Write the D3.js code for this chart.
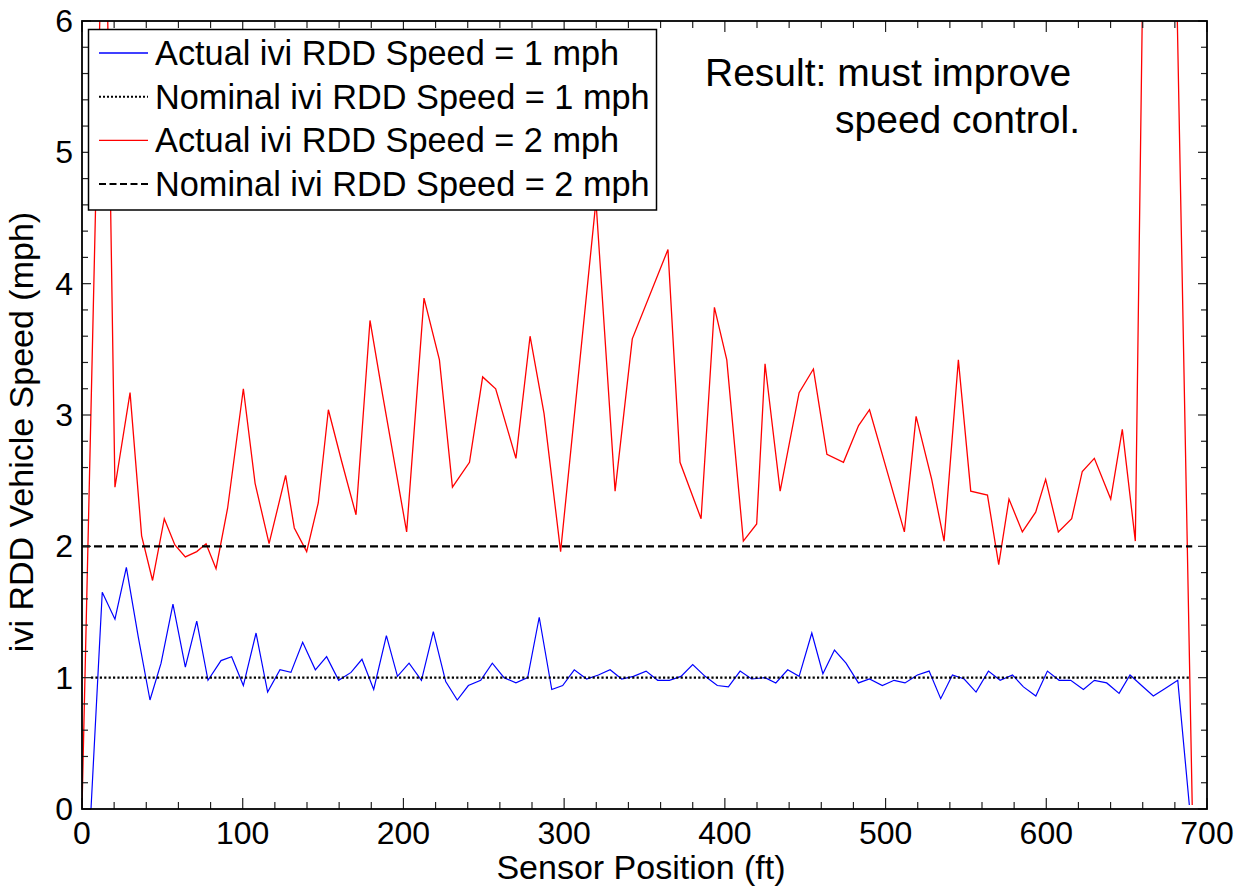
<!DOCTYPE html>
<html>
<head>
<meta charset="utf-8">
<script src="https://cdn.jsdelivr.net/npm/d3@7"></script>
<style>
  body { margin: 0; background: #fff; }
  svg { font-family: "Liberation Sans", Arial, sans-serif; }
</style>
</head>
<body>
<div id="viz"></div>
<script>
// sensor positions (ft) and speeds (mph)
const pos1 = [5.6, 12.6, 20.5, 27.6, 35, 42.3, 49.2, 56.6, 64.3, 71.4, 78.4, 86.5, 93.1, 100.4, 108.3, 115.5, 123.2, 130, 137.3, 145.2,
  152.2, 159.7, 167.4, 174.2, 181.5, 189.4, 196.3, 203.5, 211.2, 218.6, 226.3, 233.5, 240.4, 248.1, 255.3, 262.6, 270, 277.3, 284.5, 292.3,
  299.1, 306.3, 314, 321.3, 328.6, 335.8, 343.1, 351, 358.2, 365.5, 372.7, 380, 387.7, 395.3, 402.2, 409.5, 416.7, 425, 431.7, 439.1,
  446.2, 454.1, 461, 468.2, 475.4, 483.1, 490, 498, 505.3, 512.1, 519.8, 527.1, 534.3, 541.6, 548.9, 556.3, 564, 571.3, 579, 585.8,
  593.5, 600.7, 608, 615.2, 623.1, 629.9, 637.6, 645.3, 652.1, 659.3, 666.6, 674.2, 681.8, 689];
const speed1 = [0, 1.65, 1.445, 1.84, 1.31, 0.83, 1.11, 1.56, 1.08, 1.43, 0.98, 1.13, 1.16, 0.94, 1.34, 0.89, 1.06, 1.04, 1.27, 1.06,
  1.16, 0.98, 1.04, 1.14, 0.91, 1.32, 1.01, 1.11, 0.98, 1.35, 0.97, 0.83, 0.94, 0.98, 1.11, 1.00, 0.96, 1.00, 1.46, 0.91,
  0.94, 1.06, 0.99, 1.02, 1.06, 0.99, 1.01, 1.05, 0.98, 0.98, 1.01, 1.10, 1.01, 0.94, 0.93, 1.05, 0.99, 1.00, 0.96, 1.06,
  1.01, 1.34, 1.03, 1.21, 1.11, 0.96, 0.99, 0.94, 0.98, 0.96, 1.02, 1.05, 0.84, 1.02, 0.99, 0.89, 1.05, 0.98, 1.02, 0.93,
  0.86, 1.05, 0.98, 0.98, 0.91, 0.98, 0.96, 0.88, 1.02, 0.94, 0.86, 0.92, 0.98, 0.03];

const pos2 = [0, 14, 20.5, 29.9, 37.1, 43.9, 51.2, 57.8, 64.3, 71.4, 77.2, 83.4, 90.6, 100.4, 107.7, 116.4, 126.7, 132.1, 139.8, 147,
  153.3, 161.5, 170.5, 179.2, 187.1, 202, 212.8, 222.4, 230.5, 241.1, 249.3, 257.4, 270, 278.8, 287.5, 297.8, 319.8, 331.7, 342.4, 364.6,
  372.1, 385.2, 393.5, 401.2, 411.5, 419.8, 425, 434.4, 446.2, 455.1, 463.5, 473.8, 483.2, 490, 502.4, 511.7, 519, 528.7, 536.4, 545.3,
  553, 563.4, 570.4, 576.8, 585.1, 593.4, 599.6, 607.5, 615.8, 622.4, 629.9, 640.1, 647.3, 655.4, 662.7, 670, 677.5, 690.8];
const speed2 = [0, 7.6, 2.45, 3.17, 2.08, 1.74, 2.21, 2.01, 1.92, 1.96, 2.02, 1.83, 2.29, 3.20, 2.48, 2.02, 2.54, 2.14, 1.96, 2.33,
  3.04, 2.65, 2.24, 3.72, 3.15, 2.11, 3.89, 3.42, 2.45, 2.64, 3.29, 3.20, 2.67, 3.60, 3.01, 1.96, 4.63, 2.42, 3.58, 4.26,
  2.64, 2.21, 3.82, 3.42, 2.04, 2.17, 3.39, 2.42, 3.17, 3.35, 2.70, 2.64, 2.92, 3.04, 2.51, 2.11, 2.99, 2.51, 2.04, 3.42,
  2.42, 2.39, 1.86, 2.36, 2.11, 2.26, 2.51, 2.11, 2.21, 2.57, 2.67, 2.36, 2.89, 2.04, 8.8, 10.5, 8.6, 0.03];

const nominal = [1, 2];
const legendLabels = ["Actual ivi RDD Speed = 1 mph", "Nominal ivi RDD Speed = 1 mph",
  "Actual ivi RDD Speed = 2 mph", "Nominal ivi RDD Speed = 2 mph"];
const xTicks = [0, 100, 200, 300, 400, 500, 600, 700];
const yTicks = [0, 1, 2, 3, 4, 5, 6];
const note = ["Result: must improve", "speed control."];

const width = 1245, height = 888;
const margin = {left: 82, right: 38, top: 21, bottom: 79};

const svg = d3.select("#viz").append("svg")
  .attr("width", width).attr("height", height)
  .style("background-color", "white");

const x = d3.scaleLinear().domain([0, 700]).range([margin.left, width - margin.right]);
const y = d3.scaleLinear().domain([0, 6]).range([height - margin.bottom, margin.top]);

svg.append("clipPath").attr("id", "plot")
  .append("rect")
  .attr("x", x(0)).attr("y", y(6))
  .attr("width", x(700) - x(0)).attr("height", y(0) - y(6));

const line = d3.line().x(d => x(d[0])).y(d => y(d[1]));
const series1 = pos1.map((p, i) => [p, speed1[i]]);
const series2 = pos2.map((p, i) => [p, speed2[i]]);

const styles = [
  {stroke: "#0000ff", width: 1.2, dash: null},
  {stroke: "#000", width: 2.4, dash: "2.2,2.2"},
  {stroke: "#ff0000", width: 1.3, dash: null},
  {stroke: "#000", width: 2.4, dash: "8,4"}
];

const g = svg.append("g").attr("clip-path", "url(#plot)");

// nominal lines span the same range as their actual runs
const nom1 = d3.extent(pos1).map(p => [p, nominal[0]]);
const nom2 = d3.extent(pos2).map(p => [p, nominal[1]]);

const drawn = [series1, nom1, series2, nom2];
drawn.forEach((data, i) => {
  g.append("path")
    .attr("d", line(data))
    .attr("fill", "none")
    .attr("stroke", styles[i].stroke)
    .attr("stroke-width", styles[i].width)
    .attr("stroke-dasharray", styles[i].dash)
    .attr("stroke-linejoin", "miter");
});

// ticks on all four sides, pointing in
const xMinor = d3.range(0, 701, 20);
const yMinor = d3.range(0, 6.01, 0.2);
const tickG = svg.append("g").attr("stroke", "#222").attr("stroke-width", 1.2);
xMinor.forEach(v => {
  const len = xTicks.includes(Math.round(v)) ? 11 : 7;
  tickG.append("line").attr("x1", x(v)).attr("x2", x(v)).attr("y1", y(0)).attr("y2", y(0) - len);
  tickG.append("line").attr("x1", x(v)).attr("x2", x(v)).attr("y1", y(6)).attr("y2", y(6) + len);
});
yMinor.forEach(v => {
  const len = Math.abs(v - Math.round(v)) < 0.01 ? 9 : 6;
  tickG.append("line").attr("x1", x(0)).attr("x2", x(0) + len).attr("y1", y(v)).attr("y2", y(v));
  tickG.append("line").attr("x1", x(700)).attr("x2", x(700) - len).attr("y1", y(v)).attr("y2", y(v));
});

svg.append("rect")
  .attr("x", x(0)).attr("y", y(6))
  .attr("width", x(700) - x(0)).attr("height", y(0) - y(6))
  .attr("fill", "none").attr("stroke", "#000").attr("stroke-width", 1.8);

// tick labels
svg.selectAll(".xl").data(xTicks).enter().append("text")
  .attr("x", d => x(d)).attr("y", y(0) + 35)
  .attr("text-anchor", "middle").attr("font-size", 32)
  .text(d => d);
svg.selectAll(".yl").data(yTicks).enter().append("text")
  .attr("x", x(0) - 9).attr("y", d => y(d) + 11)
  .attr("text-anchor", "end").attr("font-size", 32)
  .text(d => d);

// axis titles
svg.append("text")
  .attr("x", 641).attr("y", 879)
  .attr("text-anchor", "middle").attr("font-size", 34)
  .text("Sensor Position (ft)");
svg.append("text")
  .attr("transform", "translate(33,432) rotate(-90)")
  .attr("text-anchor", "middle").attr("font-size", 34)
  .text("ivi RDD Vehicle Speed (mph)");

// legend
const legend = svg.append("g");
legend.append("rect")
  .attr("x", 88.5).attr("y", 29.5).attr("width", 568).attr("height", 180.5)
  .attr("fill", "white").attr("stroke", "#000").attr("stroke-width", 1.5);
legendLabels.forEach((lab, i) => {
  const base = 65 + i * 43.7;
  legend.append("line")
    .attr("x1", 99).attr("x2", 148).attr("y1", base - 12).attr("y2", base - 12)
    .attr("stroke", styles[i].stroke)
    .attr("stroke-width", styles[i].dash ? 2 : 1.3)
    .attr("stroke-dasharray", i === 1 ? "2,2" : (i === 3 ? "7,3.5" : null));
  legend.append("text")
    .attr("x", 155).attr("y", base)
    .attr("font-size", 34.3)
    .text(lab);
});

// annotation
svg.append("text").attr("x", 705).attr("y", 86).attr("font-size", 39).text(note[0]);
svg.append("text").attr("x", 835).attr("y", 133).attr("font-size", 39).text(note[1]);
</script>
</body>
</html>
